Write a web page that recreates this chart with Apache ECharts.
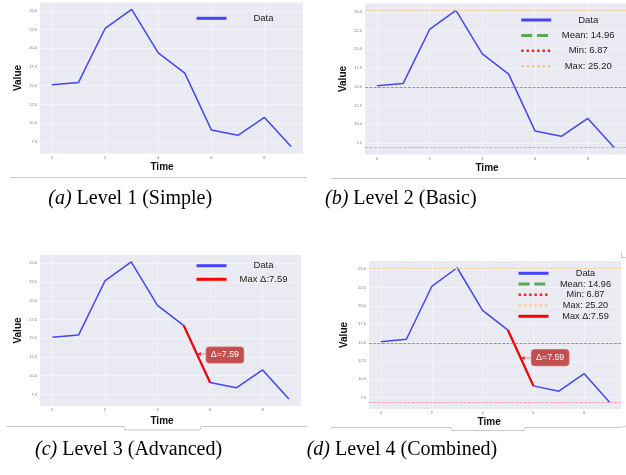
<!DOCTYPE html>
<html><head><meta charset="utf-8">
<script src="https://cdn.jsdelivr.net/npm/echarts@6/dist/echarts.min.js"></script>
<style>html,body{margin:0;padding:0;background:#fff}#c{width:626px;height:475px}</style>
</head><body><div id="c"></div>
<script>
const timeSteps = [0, 1, 2, 3, 4, 5, 6, 7, 8, 9];
const values = [15.12, 15.45, 22.65, 25.20, 19.38, 16.69, 9.10, 8.38, 10.76, 6.87];
const xTickValues = [0, 2, 4, 6, 8];
const yTickValues = [7.5, 10, 12.5, 15, 17.5, 20, 22.5, 25];
const captionLetters = ['(a)', '(b)', '(c)', '(d)'];
const captionTexts = [' Level 1 (Simple)', ' Level 2 (Basic)', ' Level 3 (Advanced)', ' Level 4 (Combined)'];
const xAxisName = 'Time';
const yAxisName = 'Value';
const dataName = 'Data';

const meanV = values.reduce((a, b) => a + b, 0) / values.length;
const minV = Math.min(...values);
const maxV = Math.max(...values);
let dIdx = 0, dMax = 0;
for (let i = 1; i < values.length; i++) {
  const d = Math.abs(values[i] - values[i - 1]);
  if (d > dMax) { dMax = d; dIdx = i; }
}
const meanName = 'Mean: ' + meanV.toFixed(2);
const minName = 'Min: ' + minV.toFixed(2);
const maxName = 'Max: ' + maxV.toFixed(2);
const deltaName = 'Max \u0394:' + dMax.toFixed(2);
const deltaLabel = '\u0394=' + dMax.toFixed(2);

const FONT = 'Liberation Sans';
const BG = '#eaeaf2';
const BLUE = '#4444fb';

const panels = [
  {grid: {left: 40, top: 2.5, width: 263, height: 151}, xmin: -0.45, xmax: 9.45, tGap: 9, tPad: 19, vGap: 17, vPad: 0,
   lg: {left: 195, top: 13.3, gap: 0}, fs: 9.5, items: ['data']},
  {grid: {left: 365, top: 3.5, width: 263, height: 151}, xmin: -0.45, xmax: 9.45, tGap: 9, tPad: 17, vGap: 16.3, vPad: 0,
   lg: {left: 519.7, top: 15, gap: 5.4}, fs: 9.5, items: ['data', 'mean', 'min', 'max']},
  {grid: {left: 40, top: 255, width: 261, height: 151}, xmin: -0.47, xmax: 9.46, tGap: 10, tPad: 17, vGap: 17, vPad: 0,
   lg: {left: 195, top: 260.7, gap: 3.6}, fs: 9.5, items: ['data', 'delta'], ann: [23, 1]},
  {grid: {left: 369, top: 261, width: 252.3, height: 148}, xmin: -0.47, xmax: 9.46, tGap: 8, tPad: 12, vGap: 20, vPad: 0,
   lg: {left: 517, top: 268.3, gap: 0.75}, fs: 9.2, items: ['data', 'mean', 'min', 'max', 'delta'], ann: [24.5, -0.4]}
];

const legendStyles = {
  data: {name: dataName, lineStyle: {color: BLUE, width: 3, type: 'solid', opacity: 1}},
  mean: {name: meanName, lineStyle: {color: '#58a858', width: 3, type: [11, 4.8], opacity: 1}},
  min: {name: minName, lineStyle: {color: '#ff2020', width: 2.5, type: [2.5, 2.8], opacity: 1}},
  max: {name: maxName, lineStyle: {color: '#f7c98a', width: 2.5, type: [2.5, 2.8], opacity: 1}},
  delta: {name: deltaName, lineStyle: {color: '#ff0000', width: 3, type: 'solid', opacity: 1}}
};

const grids = [], xAxes = [], yAxes = [], series = [], legends = [];
const dataPairs = timeSteps.map((t, i) => [t, values[i]]);

panels.forEach((p, i) => {
  grids.push(Object.assign({backgroundColor: BG, show: true, borderWidth: 0, containLabel: false}, p.grid));
  xAxes.push({
    type: 'value', gridIndex: i, min: p.xmin, max: p.xmax,
    name: xAxisName, nameLocation: 'middle', nameGap: p.tGap,
    nameTextStyle: {fontFamily: FONT, fontSize: 10, fontWeight: 'bold', color: '#111', padding: [0, p.tPad, 0, 0]},
    axisLine: {show: false},
    axisTick: {show: false, customValues: xTickValues},
    axisLabel: {customValues: xTickValues, fontSize: 4, color: '#777', margin: 2, fontFamily: FONT, formatter: v => String(v)},
    splitLine: {show: true, lineStyle: {color: '#f4f4f8', width: 0.8}}
  });
  yAxes.push({
    type: 'value', gridIndex: i, min: 5.95, max: 26.12,
    name: yAxisName, nameLocation: 'middle', nameGap: p.vGap,
    nameTextStyle: {fontFamily: FONT, fontSize: 10, fontWeight: 'bold', color: '#111', padding: [0, p.vPad, 0, 0]},
    axisLine: {show: false},
    axisTick: {show: false, customValues: yTickValues},
    axisLabel: {customValues: yTickValues, fontSize: 4, color: '#777', margin: 3, fontFamily: FONT, formatter: v => v.toFixed(1)},
    splitLine: {show: true, lineStyle: {color: '#f4f4f8', width: 0.8}}
  });

  series.push({
    type: 'line', name: dataName, xAxisIndex: i, yAxisIndex: i, data: dataPairs,
    symbol: 'none', showSymbol: false, silent: true, animation: false, z: 3,
    lineStyle: {color: BLUE, width: 1.5}, itemStyle: {color: BLUE}
  });

  const refLine = (name, val, color, legendStyle) => ({
    type: 'line', name: name, xAxisIndex: i, yAxisIndex: i, data: [],
    symbol: 'none', showSymbol: false, animation: false, z: 2,
    lineStyle: legendStyle, itemStyle: {color: legendStyle.color},
    markLine: {
      silent: true, symbol: ['none', 'none'], animation: false,
      label: {show: false},
      lineStyle: {color: color, width: 1, type: [3, 1.3]},
      data: [{yAxis: val}]
    }
  });
  if (p.items.includes('mean')) series.push(refLine(meanName, meanV, '#6cb46c', legendStyles.mean.lineStyle));
  if (p.items.includes('min')) series.push(refLine(minName, minV, '#f0a4b2', legendStyles.min.lineStyle));
  if (p.items.includes('max')) series.push(refLine(maxName, maxV, '#f3cfa0', legendStyles.max.lineStyle));

  if (p.items.includes('delta')) {
    const a = dataPairs[dIdx - 1], b = dataPairs[dIdx];
    series.push({
      type: 'line', name: deltaName, xAxisIndex: i, yAxisIndex: i, data: [a, b],
      symbol: 'none', showSymbol: false, silent: true, animation: false, z: 4,
      lineStyle: {color: '#ff0000', width: 2.2}, itemStyle: {color: '#ff0000'},
      markPoint: {
        silent: true, animation: false,
        symbol: 'path://M0,2 L4,0 L4,1.7 L10,1.7 L10,2.3 L4,2.3 L4,4 Z',
        symbolSize: [10, 4], symbolOffset: [5, 0], symbolKeepAspect: false,
        itemStyle: {color: '#e03030'},
        label: {
          show: true, position: 'inside', offset: p.ann, formatter: deltaLabel,
          color: '#fff', fontSize: 8.8, fontFamily: FONT,
          backgroundColor: '#c44f4f', borderColor: '#d27878', borderWidth: 0.8, borderRadius: 3,
          padding: [3.6, 4.4, 3, 4.4]
        },
        data: [{coord: [(a[0] + b[0]) / 2, (a[1] + b[1]) / 2]}]
      }
    });
  }

  legends.push({
    orient: 'vertical', left: p.lg.left, top: p.lg.top, itemGap: p.lg.gap,
    itemWidth: 30, itemHeight: 10, selectedMode: false, padding: 0,
    itemStyle: {opacity: 0, borderWidth: 0},
    data: p.items.map(k => ({name: legendStyles[k].name, lineStyle: legendStyles[k].lineStyle, itemStyle: {opacity: 0, borderWidth: 0}})),
    formatter: n => '{t|' + n + '}',
    textStyle: {rich: {t: {width: 64, align: 'center', fontSize: p.fs, fontFamily: FONT, color: '#222', height: 10, lineHeight: 10}}}
  });
});

const captionPos = [[48.3, 199.5], [325, 199.5], [35, 451], [306.7, 451]];
const graphics = captionLetters.map((l, i) => ({
  type: 'text', left: captionPos[i][0], top: captionPos[i][1] - 11, silent: true,
  style: {
    text: '{i|' + l + '}{n|' + captionTexts[i] + '}',
    rich: {
      i: {fontFamily: 'Liberation Serif', fontSize: 20, fontStyle: 'italic', fill: '#000'},
      n: {fontFamily: 'Liberation Serif', fontSize: 20, fill: '#000'}
    }
  }
}));
const lineStyleG = {stroke: '#c8c8c8', lineWidth: 1, fill: null};
graphics.push(
  {type: 'polyline', silent: true, shape: {points: [[10, 177.5], [307, 177.5]]}, style: lineStyleG},
  {type: 'polyline', silent: true, shape: {points: [[331, 178.5], [626, 178.5]]}, style: lineStyleG},
  {type: 'polyline', silent: true, shape: {points: [[6.5, 426.5], [124, 426.5], [125, 430], [200, 430], [201, 426.5], [307, 426.5]]}, style: lineStyleG},
  {type: 'polyline', silent: true, shape: {points: [[331, 427.5], [451, 427.5], [452, 430.5], [524, 430.5], [525, 427.5], [620, 427.5], [626, 426]]}, style: lineStyleG},
  {type: 'polyline', silent: true, shape: {points: [[621.5, 252], [621.5, 257.5], [626, 257.5]]}, style: lineStyleG}
);

const chart = echarts.init(document.getElementById('c'), null, {renderer: 'canvas'});
chart.setOption({
  animation: false,
  backgroundColor: '#fff',
  grid: grids, xAxis: xAxes, yAxis: yAxes, series: series, legend: legends,
  graphic: graphics
});
</script></body></html>
